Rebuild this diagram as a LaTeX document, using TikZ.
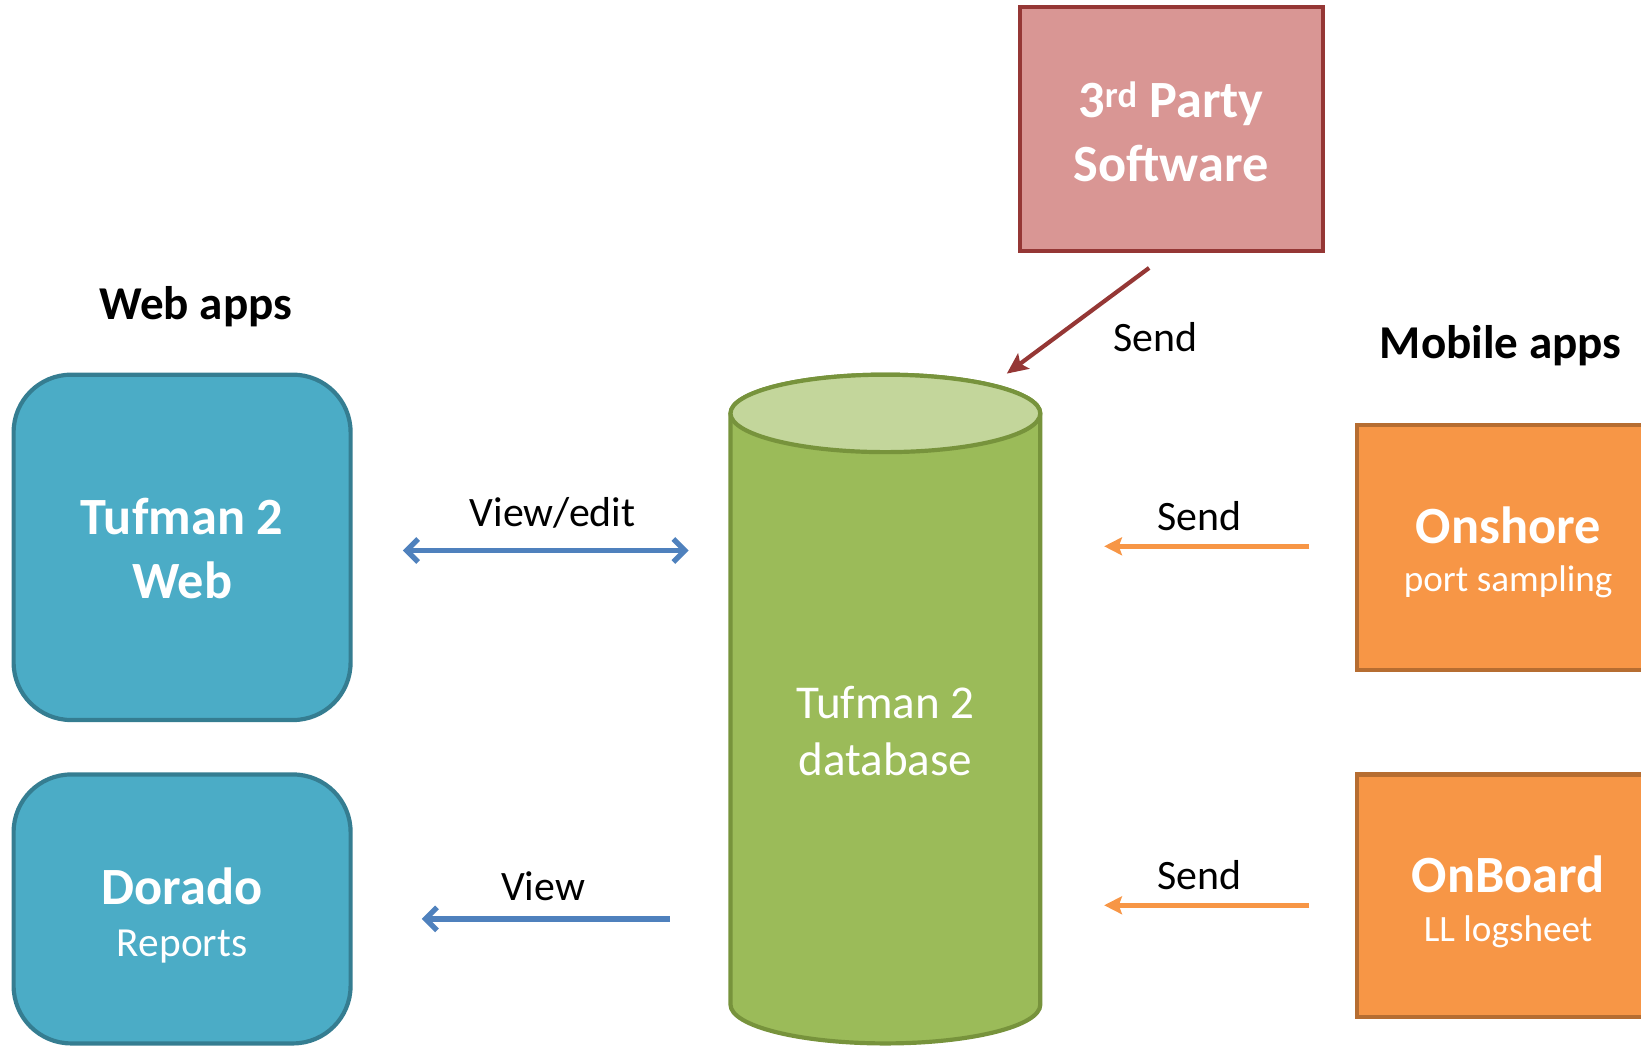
\documentclass[tikz,border=0pt]{standalone}
\usepackage{fontspec}
\setmainfont{Carlito}
\usetikzlibrary{arrows.meta}
\definecolor{redfill}{HTML}{D99694}
\definecolor{redline}{HTML}{953735}
\definecolor{bluefill}{HTML}{4BACC6}
\definecolor{blueline}{HTML}{357D91}
\definecolor{greenfill}{HTML}{9BBB59}
\definecolor{greentop}{HTML}{C3D69B}
\definecolor{greenline}{HTML}{77933C}
\definecolor{orangefill}{HTML}{F79646}
\definecolor{orangeline}{HTML}{B66D31}
\definecolor{arrowblue}{HTML}{4F81BD}
\tikzset{
  boxline/.style={line width=4pt},
  bigbold/.style={font=\fontsize{50}{60}\selectfont\bfseries, text=white, anchor=base},
  subtxt/.style={font=\fontsize{35.5}{42}\selectfont, text=white, anchor=base},
  dbtxt/.style={font=\fontsize{45}{54}\selectfont, text=white, anchor=base},
  lbl/.style={font=\fontsize{40}{48}\selectfont, text=black, anchor=base},
  hdr/.style={font=\fontsize{45}{54}\selectfont\bfseries, text=black, anchor=base},
  bluearrow/.style={draw=arrowblue, line width=5pt},
  orangearrow/.style={draw=orangefill, line width=5pt, -{Stealth[length=17pt,width=17pt,inset=3pt]}},
  redarrow/.style={draw=redline, line width=4pt, -{Stealth[length=20pt,width=18pt,inset=4pt]}},
}
\begin{document}
\begin{tikzpicture}[x=1pt,y=-1pt]
\useasboundingbox (0,0) rectangle (1568,999);
% 3rd party box
\draw[boxline, draw=redline, fill=redfill] (975,7) rectangle (1264,240);
\node[bigbold] (party) at (1119,112) {3\textsuperscript{rd} Party};
\node[bigbold] (software) at (1119,173) {Software};
% web apps
\node[hdr] (webapps) at (187,305) {Web apps};
\draw[boxline, draw=blueline, fill=bluefill, rounded corners=55pt] (13,358) rectangle (335,688);
\node[bigbold] (tweb1) at (174,511) {Tufman 2};
\node[bigbold] (tweb2) at (174,572) {Web};
\draw[boxline, draw=blueline, fill=bluefill, rounded corners=55pt] (13,740) rectangle (335,997);
\node[bigbold] (dorado) at (174,864) {Dorado};
\node[subtxt, font=\fontsize{39.5}{46}\selectfont] (reports) at (174,914) {Reports};
% cylinder
\draw[boxline, draw=greenline, fill=greenfill] (698,395) -- (698,960) arc[start angle=180, end angle=0, x radius=148, y radius=37] -- (994,395) arc[start angle=0, end angle=-180, x radius=148, y radius=37] -- cycle;
\draw[boxline, draw=greenline, fill=greentop] (846,395) ellipse[x radius=148, y radius=37];
\node[dbtxt] (db1) at (846,687) {Tufman 2};
\node[dbtxt] (db2) at (846,741) {database};
% mobile apps
\node[hdr] (mobapps) at (1434,343) {Mobile apps};
\draw[boxline, draw=orangeline, fill=orangefill] (1297,406) rectangle (1580,640);
\node[bigbold] (onshore) at (1441,519) {Onshore};
\node[subtxt] (portsamp) at (1441,565) {port sampling};
\draw[boxline, draw=orangeline, fill=orangefill] (1297,740) rectangle (1580,972);
\node[bigbold] (onboard) at (1441,853) {OnBoard};
\node[subtxt] (llsheet) at (1441,900) {LL logsheet};
% connectors
\coordinate (ve1) at (385,526);
\coordinate (ve2) at (658,526);
\draw[bluearrow, {Straight Barb[length=11pt,width=22pt]}-{Straight Barb[length=11pt,width=22pt]}] (ve1) -- (ve2);
\node[lbl] (vieweditl) at (528,503) {View/edit};
\coordinate (v1) at (640,878);
\coordinate (v2) at (403,878);
\draw[bluearrow, -{Straight Barb[length=11pt,width=22pt]}] (v1) -- (v2);
\node[lbl] (viewl) at (519,860) {View};
\coordinate (s1a) at (1251,522);
\coordinate (s1b) at (1055,522);
\draw[orangearrow] (s1a) -- (s1b);
\node[lbl] (send1) at (1146,507) {Send};
\coordinate (s2a) at (1251,865);
\coordinate (s2b) at (1055,865);
\draw[orangearrow] (s2a) -- (s2b);
\node[lbl] (send2) at (1146,850) {Send};
\coordinate (r1) at (1098,256);
\coordinate (r2) at (962,357);
\draw[redarrow] (r1) -- (r2);
\node[lbl] (send3) at (1104,336) {Send};
\end{tikzpicture}
\end{document}
